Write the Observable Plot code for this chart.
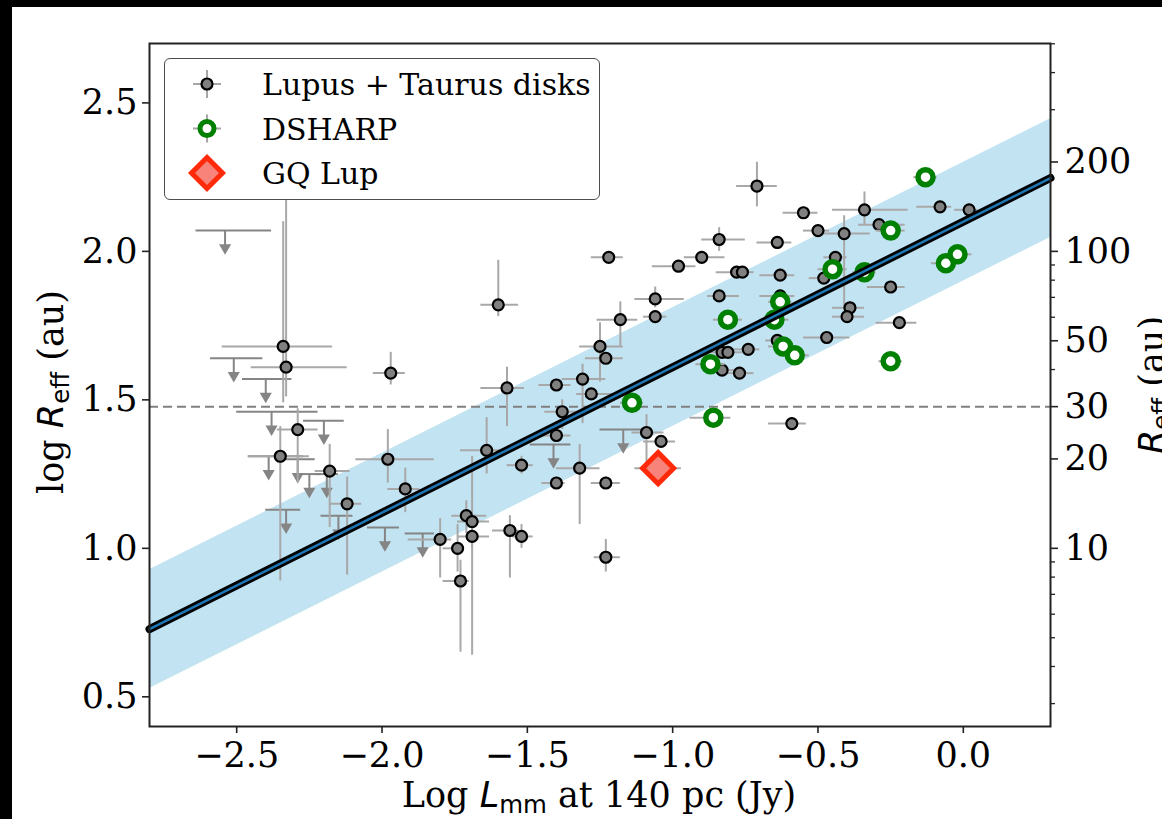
<!DOCTYPE html>
<html>
<head>
<meta charset="utf-8">
<script src="https://cdn.jsdelivr.net/npm/d3@7"></script>
<script src="https://cdn.jsdelivr.net/npm/@observablehq/plot@0.6"></script>
<style>
  html, body { margin: 0; padding: 0; background: #000; }
  #page { position: relative; width: 1162px; height: 819px; background: #000; overflow: hidden; }
  #chart { position: absolute; left: 12px; top: 7px; width: 1150px; height: 812px; background: #fff; }
  #chart svg { display: block; }
  #chart svg text { font-family: "DejaVu Serif", "Liberation Serif", serif; }
  .serif { font-family: "DejaVu Serif", "Liberation Serif", serif; }
  .math { font-family: "DejaVu Sans", sans-serif; }
  #labels { position: absolute; left: 0; top: 0; pointer-events: none; }
  #legend { position: absolute; left: 164px; top: 58px; width: 434px; height: 140px;
            border: 1.6px solid #4d4d4d; border-radius: 6px; background: #fff; }
  #legend svg { position: absolute; left: 0; top: 0; }
</style>
</head>
<body>
<div id="page">
  <div id="chart"></div>
  <svg id="labels" width="1162" height="819">
    <text class="serif" x="599" y="807" text-anchor="middle" font-size="35" fill="#000">Log <tspan class="math" font-style="oblique">L</tspan><tspan class="math" font-size="24.5" dy="6">mm</tspan><tspan dy="-6"> at 140 pc (Jy)</tspan></text>
    <text class="serif" transform="translate(63,392) rotate(-90)" text-anchor="middle" font-size="35" fill="#000">log <tspan class="math" font-style="oblique">R</tspan><tspan class="math" font-size="24.5" dy="6">eff</tspan><tspan dy="-6"> (au)</tspan></text>
    <text class="serif" transform="translate(1164,385) rotate(-90)" text-anchor="middle" font-size="35" fill="#000"><tspan class="math" font-style="oblique">R</tspan><tspan class="math" font-size="24.5" dy="6">eff</tspan><tspan dy="-6"> (au)</tspan></text>
  </svg>
  <div id="legend">
    <svg width="434" height="140" class="serif" font-size="30">
      <g transform="translate(42,25)">
        <line x1="-14" x2="14" y1="0" y2="0" stroke="#a6a6a6" stroke-width="2"/>
        <line x1="0" x2="0" y1="-14" y2="14" stroke="#a6a6a6" stroke-width="2"/>
        <circle r="5.5" fill="#808080" stroke="#000" stroke-width="2.2"/>
      </g>
      <text class="serif" x="97" y="36">Lupus + Taurus disks</text>
      <g transform="translate(42,69.5)">
        <line x1="-14" x2="14" y1="0" y2="0" stroke="#a6a6a6" stroke-width="2"/>
        <line x1="0" x2="0" y1="-14" y2="14" stroke="#a6a6a6" stroke-width="2"/>
        <circle r="7" fill="#fff" stroke="#008000" stroke-width="5"/>
      </g>
      <text class="serif" x="97" y="80.5">DSHARP</text>
      <g transform="translate(42,114)">
        <path d="M0,-15.5L15.5,0L0,15.5L-15.5,0Z" fill="#f7837b" stroke="#ff2a0a" stroke-width="5" stroke-linejoin="miter"/>
      </g>
      <text class="serif" x="97" y="125">GQ Lup</text>
    </svg>
  </div>
</div>
<script>
// Lupus + Taurus disks: log L_mm, log R_eff, x-error low/high, y-error low/high
const lupus = [
  [-2.34, 1.68, -2.55, -2.17, 1.49, 2.10],
  [-2.33, 1.61, -2.45, -2.12, 1.51, 2.30],
  [-1.97, 1.59, -2.03, -1.92, 1.55, 1.66],
  [-2.29, 1.40, -2.36, -2.22, 1.22, 1.47],
  [-2.35, 1.31, -2.46, -2.25, 0.89, 1.41],
  [-2.18, 1.26, -2.23, -2.11, 1.07, 1.35],
  [-2.12, 1.15, -2.18, -2.07, 0.91, 1.24],
  [-1.98, 1.30, -2.09, -1.82, 1.22, 1.40],
  [-1.92, 1.20, -1.98, -1.87, 1.12, 1.27],
  [-1.64, 1.33, -1.73, -1.55, 1.25, 1.44],
  [-1.52, 1.28, -1.57, -1.48, 1.25, 1.31],
  [-1.71, 1.11, -1.76, -1.64, 1.05, 1.16],
  [-1.69, 1.09, -1.74, -1.63, 0.64, 1.31],
  [-1.69, 1.04, -1.74, -1.63, 1.00, 1.08],
  [-1.80, 1.03, -1.91, -1.76, 0.90, 1.10],
  [-1.74, 1.00, -1.79, -1.72, 0.92, 1.08],
  [-1.73, 0.89, -1.79, -1.70, 0.65, 0.96],
  [-1.56, 1.06, -1.62, -1.53, 0.90, 1.11],
  [-1.52, 1.04, -1.55, -1.48, 1.00, 1.08],
  [-1.60, 1.82, -1.66, -1.53, 1.78, 1.97],
  [-1.22, 1.98, -1.28, -1.17, 1.96, 2.00],
  [-0.98, 1.95, -1.07, -0.92, 1.93, 1.97],
  [-0.90, 1.98, -0.96, -0.82, 1.96, 2.00],
  [-0.84, 2.04, -0.90, -0.75, 2.00, 2.08],
  [-0.78, 1.93, -0.85, -0.74, 1.91, 1.95],
  [-0.76, 1.93, -0.78, -0.72, 1.91, 1.95],
  [-1.06, 1.84, -1.13, -0.96, 1.81, 1.88],
  [-1.06, 1.78, -1.10, -1.02, 1.76, 1.80],
  [-0.84, 1.85, -0.88, -0.77, 1.83, 1.87],
  [-1.18, 1.77, -1.26, -1.12, 1.68, 1.83],
  [-1.25, 1.68, -1.32, -1.17, 1.56, 1.76],
  [-1.23, 1.64, -1.30, -1.17, 1.62, 1.66],
  [-1.57, 1.54, -1.66, -1.51, 1.41, 1.61],
  [-1.40, 1.55, -1.46, -1.35, 1.53, 1.57],
  [-1.31, 1.57, -1.38, -1.23, 1.42, 1.62],
  [-1.28, 1.52, -1.33, -1.19, 1.50, 1.54],
  [-1.38, 1.46, -1.44, -1.32, 1.40, 1.50],
  [-1.40, 1.38, -1.48, -1.35, 1.36, 1.40],
  [-1.32, 1.27, -1.40, -1.25, 1.08, 1.35],
  [-1.40, 1.22, -1.45, -1.37, 1.20, 1.24],
  [-1.23, 1.22, -1.28, -1.18, 1.20, 1.24],
  [-1.09, 1.39, -1.14, -1.03, 1.26, 1.45],
  [-1.04, 1.36, -1.10, -0.99, 1.34, 1.38],
  [-0.83, 1.60, -0.88, -0.78, 1.58, 1.62],
  [-0.77, 1.59, -0.82, -0.72, 1.57, 1.61],
  [-0.83, 1.66, -0.88, -0.79, 1.64, 1.68],
  [-0.81, 1.66, -0.85, -0.76, 1.64, 1.68],
  [-0.74, 1.67, -0.80, -0.70, 1.65, 1.69],
  [-0.71, 2.22, -0.78, -0.64, 2.15, 2.30],
  [-0.55, 2.13, -0.62, -0.50, 2.11, 2.15],
  [-0.34, 2.14, -0.45, -0.19, 2.09, 2.20],
  [-0.08, 2.15, -0.16, -0.04, 2.13, 2.17],
  [-0.50, 2.07, -0.55, -0.46, 2.05, 2.09],
  [-0.41, 2.06, -0.49, -0.32, 1.81, 2.12],
  [-0.29, 2.09, -0.36, -0.20, 2.07, 2.11],
  [-0.64, 2.03, -0.71, -0.59, 2.01, 2.05],
  [-0.63, 1.92, -0.70, -0.58, 1.90, 1.94],
  [-0.44, 1.98, -0.48, -0.40, 1.96, 2.00],
  [-0.48, 1.91, -0.53, -0.43, 1.89, 1.93],
  [-0.25, 1.88, -0.33, -0.20, 1.86, 1.90],
  [-0.63, 1.85, -0.70, -0.58, 1.83, 1.87],
  [-0.39, 1.81, -0.45, -0.34, 1.79, 1.83],
  [-0.40, 1.78, -0.45, -0.34, 1.76, 1.80],
  [-0.22, 1.76, -0.30, -0.16, 1.74, 1.78],
  [-0.47, 1.71, -0.55, -0.39, 1.69, 1.73],
  [0.02, 2.14, -0.03, 0.05, 2.12, 2.16],
  [-0.59, 1.42, -0.67, -0.54, 1.40, 1.44],
  [-1.23, 0.97, -1.27, -1.18, 0.92, 1.03],
  [-0.64, 1.70, -0.68, -0.60, 1.68, 1.72]
];

// Upper limits on R_eff: log L_mm, log R_eff limit, x-error low/high
const lupusLimits = [
  [-2.54, 2.07, -2.64, -2.38],
  [-2.51, 1.64, -2.59, -2.41],
  [-2.40, 1.57, -2.48, -2.31],
  [-2.38, 1.46, -2.50, -2.22],
  [-2.20, 1.43, -2.27, -2.13],
  [-2.39, 1.31, -2.46, -2.27],
  [-2.29, 1.30, -2.33, -2.23],
  [-2.25, 1.25, -2.30, -2.21],
  [-2.19, 1.25, -2.23, -2.15],
  [-2.33, 1.13, -2.40, -2.28],
  [-2.15, 1.11, -2.21, -2.10],
  [-1.99, 1.07, -2.05, -1.94],
  [-1.86, 1.05, -1.92, -1.82],
  [-1.17, 1.40, -1.25, -1.10],
  [-1.41, 1.35, -1.49, -1.35]
];
const limitArrowLength = 0.075;

// DSHARP disks: log L_mm, log R_eff, x-error low/high
const dsharp = [
  [-1.14, 1.49, -1.18, -1.10],
  [-0.81, 1.77, -0.86, -0.76],
  [-0.87, 1.62, -0.92, -0.82],
  [-0.86, 1.44, -0.94, -0.80],
  [-0.63, 1.83, -0.67, -0.59],
  [-0.65, 1.77, -0.70, -0.60],
  [-0.62, 1.68, -0.67, -0.57],
  [-0.58, 1.65, -0.63, -0.53],
  [-0.45, 1.94, -0.50, -0.40],
  [-0.34, 1.93, -0.38, -0.30],
  [-0.25, 2.07, -0.30, -0.20],
  [-0.13, 2.25, -0.17, -0.09],
  [-0.06, 1.96, -0.11, -0.01],
  [-0.02, 1.99, -0.05, 0.03],
  [-0.25, 1.63, -0.29, -0.21]
];

// GQ Lup: log L_mm, log R_eff, x-error low/high
const gqLup = [[-1.05, 1.27, -1.13, -0.97]];

// Size-luminosity relation and its scatter (dex)
const fitIntercept = 2.10;
const fitSlope = 0.49;
const fitScatter = 0.2;
const xRange = [-2.8, 0.3];
const yRange = [0.4, 2.7];

// 30 au reference radius
const referenceAu = 30;

// Axis ticks
const xTicks = [-2.5, -2.0, -1.5, -1.0, -0.5, 0.0];
const yTicks = [0.5, 1.0, 1.5, 2.0, 2.5];
const auMajorTicks = [10, 20, 30, 50, 100, 200];
const auMinorTicks = [3, 4, 5, 6, 7, 8, 9, 40, 60, 70, 80, 90, 300, 400, 500];

const lupusRows = lupus.map(([x, y, xlo, xhi, ylo, yhi]) => ({x, y, xlo, xhi, ylo, yhi}));
const limitRows = lupusLimits.map(([x, y, xlo, xhi]) => ({x, y, xlo, xhi, tip: y - limitArrowLength}));
const dsharpRows = dsharp.map(([x, y, xlo, xhi]) => ({x, y, xlo, xhi}));
const gqRows = gqLup.map(([x, y, xlo, xhi]) => ({x, y, xlo, xhi}));
const fitLine = xRange.map(x => ({x, y: fitIntercept + fitSlope * x}));

const fmt = d3.format(".1f");
const errColor = "#a8a8a8";
const limitColor = "#858585";
const serif = "'DejaVu Serif', 'Liberation Serif', serif";

const chart = Plot.plot({
  width: 1150,
  height: 812,
  marginLeft: 137,
  marginRight: 112,
  marginTop: 36,
  marginBottom: 93,
  x: {domain: xRange},
  y: {domain: yRange},
  style: {fontFamily: serif, fontSize: "35px", color: "#000", background: "#fff", overflow: "visible"},
  marks: [
    Plot.areaY(fitLine, {x: "x", y1: d => d.y - fitScatter, y2: d => d.y + fitScatter, fill: "#c2e3f2"}),
    Plot.ruleY([Math.log10(referenceAu)], {stroke: "#808080", strokeWidth: 2, strokeDasharray: "9,5"}),

    // upper limits
    Plot.ruleY(limitRows, {y: "y", x1: "xlo", x2: "xhi", stroke: limitColor, strokeWidth: 2}),
    Plot.ruleX(limitRows, {x: "x", y1: "y", y2: "tip", stroke: limitColor, strokeWidth: 2}),
    Plot.dot(limitRows, {x: "x", y: "tip", symbol: "triangle", rotate: 180, r: 4.5, dy: -5, fill: limitColor, stroke: "none"}),

    // Lupus + Taurus detections
    Plot.ruleY(lupusRows, {y: "y", x1: "xlo", x2: "xhi", stroke: errColor, strokeWidth: 2}),
    Plot.ruleX(lupusRows, {x: "x", y1: "ylo", y2: "yhi", stroke: errColor, strokeWidth: 2}),
    Plot.dot(lupusRows, {x: "x", y: "y", r: 5.5, fill: "#808080", stroke: "#000", strokeWidth: 2.2}),

    // DSHARP
    Plot.ruleY(dsharpRows, {y: "y", x1: "xlo", x2: "xhi", stroke: errColor, strokeWidth: 2}),
    Plot.dot(dsharpRows, {x: "x", y: "y", r: 7.5, fill: "#fff", stroke: "#008000", strokeWidth: 5.5}),

    // GQ Lup
    Plot.ruleY(gqRows, {y: "y", x1: "xlo", x2: "xhi", stroke: errColor, strokeWidth: 2}),
    Plot.dot(gqRows, {x: "x", y: "y", symbol: "diamond2", r: 14, fill: "#f7837b", stroke: "#ff2a0a", strokeWidth: 5, strokeLinejoin: "miter"}),

    // fitted relation
    Plot.line(fitLine, {x: "x", y: "y", stroke: "#000", strokeWidth: 8}),
    Plot.line(fitLine, {x: "x", y: "y", stroke: "#1f77b4", strokeWidth: 2.5}),

    Plot.frame({stroke: "#222", strokeWidth: 2}),
    Plot.axisX({ticks: xTicks, tickFormat: fmt, tickSize: 7, tickPadding: 9, strokeWidth: 1.6, stroke: "#222", fontFamily: serif, label: null}),
    Plot.axisY({anchor: "left", ticks: yTicks, tickFormat: fmt, tickSize: 7, tickPadding: 5, strokeWidth: 1.6, stroke: "#222", fontFamily: serif, label: null}),
    Plot.axisY({anchor: "right", ticks: auMajorTicks.map(Math.log10), tickFormat: d => String(Math.round(10 ** d)), tickSize: 7, tickPadding: 7, strokeWidth: 1.6, stroke: "#222", fontFamily: serif, label: null}),
    Plot.axisY({anchor: "right", ticks: auMinorTicks.map(Math.log10), tickFormat: () => "", tickSize: 4, strokeWidth: 1.3, stroke: "#222", label: null})
  ]
});

document.getElementById("chart").append(chart);
</script>
</body>
</html>
